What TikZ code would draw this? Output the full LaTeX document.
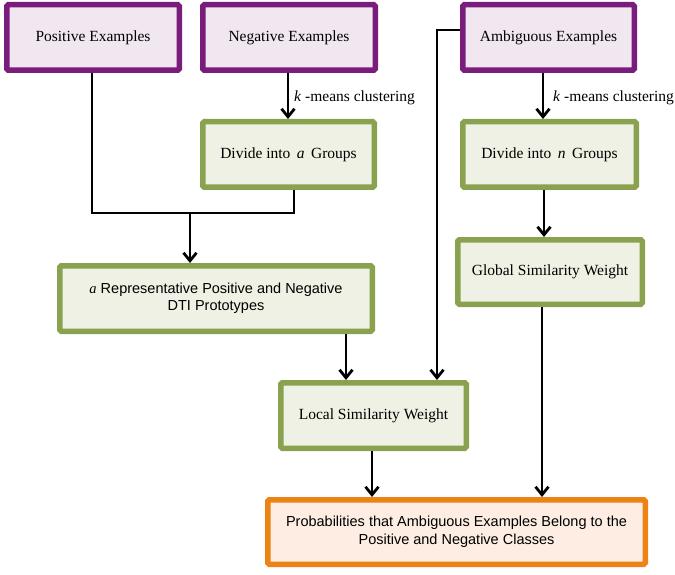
\documentclass[tikz,border=0pt]{standalone}
\usepackage{fontspec}
\setmainfont{Liberation Serif}
\newfontfamily\sansf{Liberation Sans}
\usetikzlibrary{arrows.meta,shadows}
\definecolor{purB}{HTML}{7A1C7B}
\definecolor{purF}{HTML}{F1E7F1}
\definecolor{grnB}{HTML}{8AA24F}
\definecolor{grnF}{HTML}{EEF1E3}
\definecolor{orgB}{HTML}{EC8314}
\definecolor{orgF}{HTML}{FDEDE2}
\tikzset{
  box/.style={draw, line width=5.5pt, rounded corners=1.5pt, inner sep=0pt, align=center,
    font=\fontsize{15.5}{18}\selectfont,
    drop shadow={opacity=0.25, shadow xshift=1pt, shadow yshift=-2pt}},
  pbox/.style={box, draw=purB, fill=purF},
  gbox/.style={box, draw=grnB, fill=grnF},
  obox/.style={box, draw=orgB, fill=orgF},
  conn/.style={line width=2.8pt, black},
  arr/.style={conn, -{Straight Barb[length=8pt,width=13pt,line width=2.8pt]}},
  lbl/.style={anchor=west, inner sep=0pt, font=\fontsize{15.5}{18}\selectfont}
}
\begin{document}
\begin{tikzpicture}[x=1pt,y=-1pt]
\useasboundingbox (0,0) rectangle (675,575);
% boxes (size = outer - line width)
\node[pbox, minimum width=172.5, minimum height=65.5] (pos) at (93,37.5) {Positive Examples};
\node[pbox, minimum width=172.5, minimum height=65.5] (neg) at (289,37.5) {Negative Examples};
\node[pbox, minimum width=171.5, minimum height=65.5] (amb) at (548.5,37.5) {Ambiguous Examples};
\node[gbox, minimum width=171.5, minimum height=65.5] (diva) at (288.5,154.5) {Divide into \,\textit{a}\, Groups};
\node[gbox, minimum width=173.5, minimum height=65.5] (divn) at (549.5,154.5) {Divide into \,\textit{n}\, Groups};
\node[gbox, minimum width=312.5, minimum height=65.5, font=\sansf\fontsize{14.5}{17}\selectfont] (rep) at (216,298.5) {{\rmfamily\itshape a} Representative Positive and Negative\\DTI Prototypes};
\node[gbox, minimum width=184.5, minimum height=64.5] (glob) at (550,272) {Global Similarity Weight};
\node[gbox, minimum width=185.5, minimum height=65.5] (loc) at (373.5,415.5) {Local Similarity Weight};
\node[obox, minimum width=377.5, minimum height=64.5, font=\sansf\fontsize{14.5}{18}\selectfont] (prob) at (456.5,532) {Probabilities that Ambiguous Examples Belong to the\\Positive and Negative Classes};
% junctions
\coordinate (j1) at (92,213);
\coordinate (j2) at (294,213);
\coordinate (j3) at (190,213);
\coordinate (j4) at (437,30);
% connectors
\draw[conn] (pos.south -| j1) -- (j1) -- (j2) -- (diva.south -| j2);
\draw[arr] (j3) -- (rep.north -| j3);
\draw[arr] (neg.south -| 288,0) -- (diva.north -| 288,0);
\draw[arr] (amb.south -| 543,0) -- (divn.north -| 543,0);
\draw[arr] (amb.west |- j4) -- (j4) -- (loc.north -| j4);
\draw[arr] (divn.south -| 544,0) -- (glob.north -| 544,0);
\draw[arr] (rep.south -| 346,0) -- (loc.north -| 346,0);
\draw[arr] (glob.south -| 542,0) -- (prob.north -| 542,0);
\draw[arr] (loc.south -| 372,0) -- (prob.north -| 372,0);
% labels
\node[lbl] (km1) at (294,98) {\textit{k} -means clustering};
\node[lbl] (km2) at (553,98) {\textit{k} -means clustering};
\end{tikzpicture}
\end{document}
